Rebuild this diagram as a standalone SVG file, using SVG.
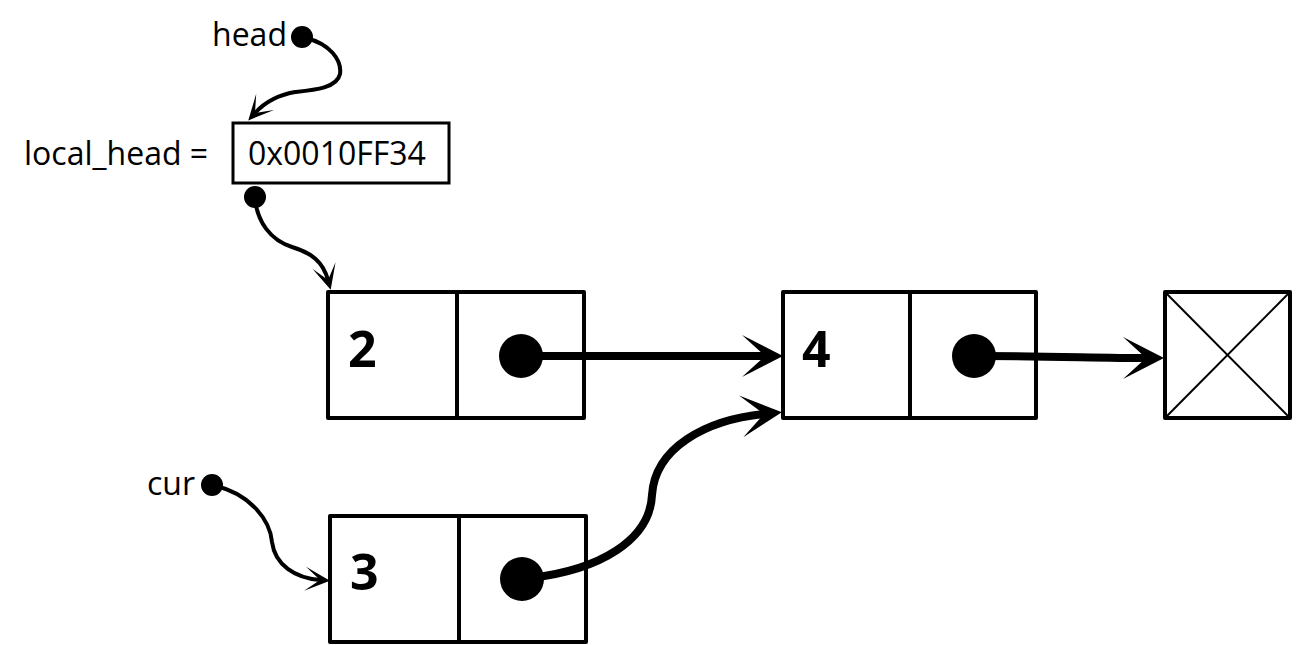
<svg xmlns="http://www.w3.org/2000/svg" width="1300" height="645" viewBox="0 0 1300 645">
<style>
  .box{fill:#fff;stroke:#000;stroke-width:4;stroke-linejoin:round}
  .div{stroke:#000;stroke-width:4}
  .lbl{font-family:"Open Sans","Liberation Sans",sans-serif;font-size:32px;fill:#000}
  .num{font-family:"Open Sans","Liberation Sans",sans-serif;font-size:50px;font-weight:bold;fill:#000}
  .thick{fill:none;stroke:#000;stroke-width:8;marker-end:url(#bigArrow)}
  .thin{fill:none;stroke:#000;stroke-width:4;marker-end:url(#smallArrow)}
</style>
<defs>
  <marker id="bigArrow" markerUnits="userSpaceOnUse" viewBox="-25 -22 45 44" refX="0" refY="0" markerWidth="45" markerHeight="44" orient="auto" overflow="visible">
    <path d="M18,0 L-23,-21 L0,0 L-23,21 Z" fill="#000"/>
  </marker>
  <marker id="smallArrow" markerUnits="userSpaceOnUse" viewBox="-16 -13 28 26" refX="0" refY="0" markerWidth="28" markerHeight="26" orient="auto" overflow="visible">
    <path d="M10,0 L-15,-12 L0,0 L-15,12 Z" fill="#000"/>
  </marker>
</defs>

<g id="head">
  <text class="lbl" x="212" y="46">head</text>
  <circle cx="302" cy="37" r="11" fill="#000"/>
</g>

<g id="local_head">
  <text class="lbl" x="24" y="165">local_head =</text>
  <rect x="233" y="123" width="216" height="60" fill="#fff" stroke="#000" stroke-width="3"/>
  <text class="lbl" x="248" y="165">0x0010FF34</text>
  <circle cx="255" cy="197" r="11" fill="#000"/>
</g>

<g id="node2">
  <rect class="box" x="328" y="292" width="256" height="126"/>
  <line class="div" x1="457" y1="292" x2="457" y2="418"/>
  <text class="num" x="348" y="367">2</text>
  <circle cx="521" cy="356" r="22" fill="#000"/>
</g>

<g id="node4">
  <rect class="box" x="783" y="292" width="253" height="126"/>
  <line class="div" x1="910" y1="292" x2="910" y2="418"/>
  <text class="num" x="802" y="367">4</text>
  <circle cx="974" cy="356" r="22" fill="#000"/>
</g>

<g id="null">
  <rect class="box" x="1165" y="292" width="125" height="126"/>
  <line x1="1165" y1="292" x2="1290" y2="418" stroke="#000" stroke-width="2"/>
  <line x1="1290" y1="292" x2="1165" y2="418" stroke="#000" stroke-width="2"/>
</g>

<g id="cur">
  <text class="lbl" x="147" y="495">cur</text>
  <circle cx="212" cy="485" r="11" fill="#000"/>
</g>

<g id="node3">
  <rect class="box" x="330" y="516" width="256" height="126"/>
  <line class="div" x1="459" y1="516" x2="459" y2="642"/>
  <text class="num" x="350" y="590">3</text>
  <circle cx="522" cy="579" r="22" fill="#000"/>
</g>

<g id="connectors">
  <path class="thin" d="M306,38 C330,44 342,60 340,74 C337,88 315,90 295,92 C278,95 265,102 255,113"/>
  <path class="thin" d="M255,200 C258,222 270,240 292,247 C312,253 323,262 328,280"/>
  <path class="thin" d="M216,486 C250,494 270,520 272,542 C275,565 295,578 320,580"/>
  <path class="thick" d="M530,356 L765,356"/>
  <path class="thick" d="M530,578 C600,570 650,540 652,495 C655,448 705,420 764,414"/>
  <path class="thick" d="M982,356 C1050,356 1100,358 1146,358"/>
</g>
</svg>
